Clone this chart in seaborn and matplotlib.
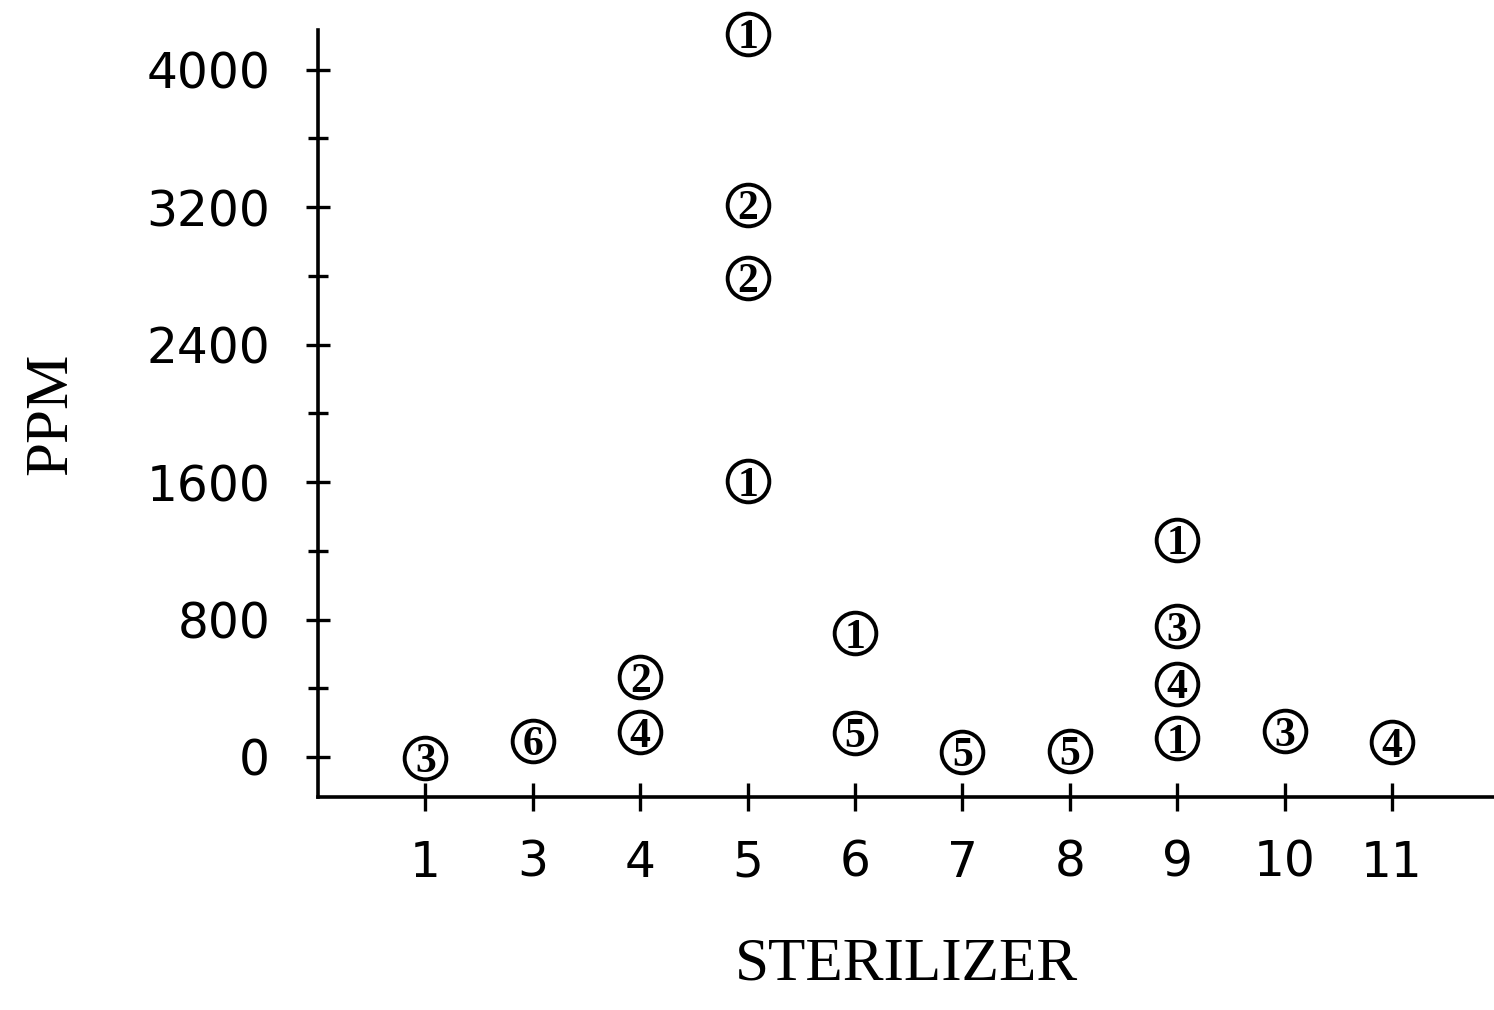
import matplotlib
matplotlib.use("Agg")
import matplotlib.pyplot as plt
import seaborn as sns
import pandas as pd
from matplotlib.ticker import MultipleLocator

# Data
sterilizers = ["1", "3", "4", "5", "6", "7", "8", "9", "10", "11"]
point_sterilizer = ["1", "3", "4", "4", "5", "5", "5", "5", "6", "6",
                    "7", "8", "9", "9", "9", "9", "10", "11"]
point_ppm = [-5, 95, 465, 145, 4210, 3215, 2790, 1605, 720, 140,
             30, 35, 1265, 760, 425, 110, 150, 85]
point_label = [3, 6, 2, 4, 1, 2, 2, 1, 1, 5,
               5, 5, 1, 3, 4, 1, 3, 4]

df = pd.DataFrame({
    "sterilizer": point_sterilizer,
    "ppm": point_ppm,
    "label": point_label,
})
df["pos"] = df["sterilizer"].map({s: i for i, s in enumerate(sterilizers)})

sns.set_theme(style="white")
plt.rcParams["font.family"] = ["DejaVu Sans"]
plt.rcParams["text.color"] = "black"
plt.rcParams["axes.labelcolor"] = "black"
plt.rcParams["xtick.color"] = "black"
plt.rcParams["ytick.color"] = "black"

fig = plt.figure(figsize=(14.94, 10.10), dpi=100)
ax = fig.add_axes([0.2129, 0.2109, 0.7871, 0.7594])

sns.scatterplot(data=df, x="pos", y="ppm", ax=ax, marker="o", s=900,
                facecolor="white", edgecolor="black", linewidth=2.8,
                legend=False, zorder=3, clip_on=False)
for _, r in df.iterrows():
    ax.text(r["pos"], r["ppm"], str(r["label"]), ha="center", va="center_baseline",
            fontsize=30, fontweight="bold", family="Liberation Serif",
            color="black", zorder=4, clip_on=False)

ax.set_xlim(-1.0, 9.95)
ax.set_ylim(-233, 4231)
ax.set_xticks(range(len(sterilizers)))
ax.set_xticklabels(sterilizers)
ax.yaxis.set_major_locator(MultipleLocator(800))
ax.yaxis.set_minor_locator(MultipleLocator(400))

for side in ["top", "right"]:
    ax.spines[side].set_visible(False)
for side in ["left", "bottom"]:
    ax.spines[side].set_color("black")
    ax.spines[side].set_linewidth(2.6)

ax.tick_params(axis="y", which="major", direction="inout", length=17, width=2.4,
               labelsize=35, pad=26, left=True)
ax.tick_params(axis="y", which="minor", direction="inout", length=14, width=2.4,
               left=True)
ax.tick_params(axis="x", which="major", direction="inout", length=20, width=2.4,
               labelsize=35, pad=20, bottom=True)

ax.set_xlabel("STERILIZER", fontsize=44, family="Liberation Serif", labelpad=36)
ax.set_ylabel("PPM", fontsize=44, family="Liberation Serif", labelpad=48)

fig.savefig("out.png", dpi=100)
